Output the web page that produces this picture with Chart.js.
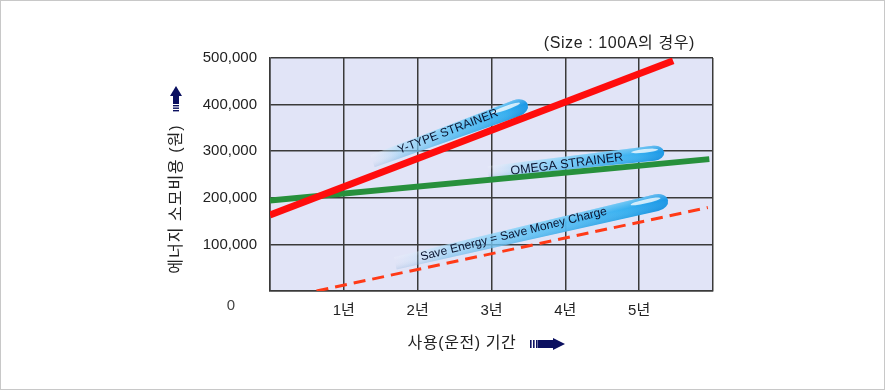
<!DOCTYPE html>
<html>
<head>
    <title>에너지 소모비용</title>
    <script src="https://cdn.jsdelivr.net/npm/chart.js"></script>
    <style>
        body { margin: 0; background: #fff; }
    </style>
</head>
<body>
    <canvas id="costChart" width="885" height="390"></canvas>
    <script>
        // values (x = years of use, y = won)
        const xTickLabels = ['', '1년', '2년', '3년', '4년', '5년', ''];
        const yTypeX = [0, 5.46];
        const yTypeY = [163000, 494000];
        const omegaX = [0, 5.95];
        const omegaY = [194000, 283000];
        const savingX = [0.63, 5.93];
        const savingY = [0, 179000];

        // callout bubbles, in data units: [tailX, tailY, headX, headY]
        const calloutText = ['Y-TYPE STRAINER', 'OMEGA STRAINER', 'Save Energy = Save Money Charge'];
        const calloutPath = [[1.38, 281000, 3.49, 401000], [2.95, 258000, 5.34, 298000], [1.69, 62000, 5.39, 195000]];
        const calloutTextAt = [[2.41, 342000], [4.02, 272000], [3.30, 122000]];

        const pts = (xs, ys) => xs.map((x, i) => ({ x: x, y: ys[i] }));
        const FONT = '"Liberation Sans", "Noto Sans CJK KR", sans-serif';

        function drawBubble(ctx, x0, y0, x1, y1, h) {
            const L = Math.hypot(x1 - x0, y1 - y0);
            ctx.save();
            ctx.translate(x0, y0);
            ctx.rotate(Math.atan2(y1 - y0, x1 - x0));
            ctx.beginPath();
            ctx.moveTo(0, -h * 0.3);
            ctx.lineTo(L - h * 0.7, -h / 2);
            ctx.ellipse(L - h * 0.7, 0, h * 0.7, h / 2, 0, -Math.PI / 2, Math.PI / 2);
            ctx.lineTo(0, h * 0.45);
            ctx.closePath();
            const g = ctx.createLinearGradient(0, 0, L, 0);
            g.addColorStop(0, 'rgba(200,232,252,0)');
            g.addColorStop(0.2, 'rgba(140,210,248,0.6)');
            g.addColorStop(0.5, 'rgba(95,195,246,0.9)');
            g.addColorStop(0.85, 'rgba(55,176,240,1)');
            g.addColorStop(1, 'rgba(25,150,230,1)');
            ctx.fillStyle = g;
            ctx.fill();
            ctx.clip();
            const v = ctx.createLinearGradient(0, -h / 2, 0, h / 2);
            v.addColorStop(0, 'rgba(255,255,255,0.3)');
            v.addColorStop(0.45, 'rgba(255,255,255,0)');
            v.addColorStop(1, 'rgba(0,90,170,0.15)');
            ctx.fillStyle = v;
            ctx.fillRect(0, -h / 2, L, h);
            ctx.fillStyle = 'rgba(255,255,255,0.75)';
            ctx.beginPath();
            ctx.ellipse(L - h * 1.3, -h * 0.22, h * 0.9, h * 0.12, 0, 0, Math.PI * 2);
            ctx.fill();
            ctx.restore();
        }

        const decorPlugin = {
            id: 'decor',
            beforeDraw(chart) {
                const { ctx, chartArea: a } = chart;
                ctx.save();
                ctx.fillStyle = '#fff';
                ctx.fillRect(0, 0, chart.width, chart.height);
                ctx.strokeStyle = '#c8c8c8';
                ctx.lineWidth = 1;
                ctx.strokeRect(0.5, 0.5, chart.width - 1, chart.height - 1);
                ctx.fillStyle = '#e1e4f7';
                ctx.fillRect(a.left, a.top, a.right - a.left, a.bottom - a.top);
                ctx.restore();
            },
            beforeDatasetsDraw(chart) {
                const { ctx, scales: { x, y } } = chart;
                const heights = [17, 15, 17];
                const sizes = [12, 12.5, 12];
                calloutPath.forEach((p, i) => {
                    const x0 = x.getPixelForValue(p[0]), y0 = y.getPixelForValue(p[1]);
                    const x1 = x.getPixelForValue(p[2]), y1 = y.getPixelForValue(p[3]);
                    drawBubble(ctx, x0, y0, x1, y1, heights[i]);
                    const tx = x.getPixelForValue(calloutTextAt[i][0]);
                    const ty = y.getPixelForValue(calloutTextAt[i][1]);
                    ctx.save();
                    ctx.translate(tx, ty);
                    ctx.rotate(Math.atan2(y1 - y0, x1 - x0) - 0.02);
                    ctx.font = sizes[i] + 'px ' + FONT;
                    ctx.fillStyle = '#0b1430';
                    ctx.textAlign = 'center';
                    ctx.textBaseline = 'middle';
                    ctx.fillText(calloutText[i], 0, 0);
                    ctx.restore();
                });
            },
            afterDraw(chart) {
                const { ctx, chartArea: a } = chart;
                ctx.save();
                ctx.fillStyle = '#222';
                ctx.textBaseline = 'middle';

                // origin label
                ctx.font = '15px ' + FONT;
                ctx.textAlign = 'center';
                ctx.fillStyle = '#444';
                ctx.fillText('0', a.left - 39, a.bottom + 15);
                ctx.fillStyle = '#222';

                // note top right
                ctx.font = '16px ' + FONT;
                ctx.letterSpacing = '0.6px';
                ctx.textAlign = 'right';
                ctx.fillText('(Size : 100A의 경우)', 695, 44);

                // x title + arrow
                ctx.textAlign = 'center';
                ctx.fillText('사용(운전) 기간', 462, 344);
                ctx.letterSpacing = '0px';
                ctx.fillStyle = '#0b1060';
                [530, 533, 536].forEach(bx => ctx.fillRect(bx, 340, 1.6, 8));
                ctx.fillRect(538, 340, 16, 8);
                ctx.beginPath();
                ctx.moveTo(553, 338); ctx.lineTo(565, 344); ctx.lineTo(553, 350);
                ctx.closePath(); ctx.fill();

                // y arrow
                ctx.beginPath();
                ctx.moveTo(176, 86); ctx.lineTo(182, 96); ctx.lineTo(170, 96);
                ctx.closePath(); ctx.fill();
                ctx.fillRect(173, 96, 6, 8);
                [105, 107.5, 110].forEach(by => ctx.fillRect(173, by, 6, 1.4));

                // y title
                ctx.translate(177, 199);
                ctx.rotate(-Math.PI / 2);
                ctx.fillStyle = '#222';
                ctx.font = '16px ' + FONT;
                ctx.letterSpacing = '1px';
                ctx.fillText('에너지 소모비용 (원)', 0, 0);
                ctx.restore();
            }
        };

        new Chart(document.getElementById('costChart').getContext('2d'), {
            type: 'scatter',
            data: {
                datasets: [
                    { label: 'Y-TYPE STRAINER', data: pts(yTypeX, yTypeY), borderColor: '#ff0d0d', borderWidth: 7 },
                    { label: 'OMEGA STRAINER', data: pts(omegaX, omegaY), borderColor: '#27903c', borderWidth: 6 },
                    { label: 'Save', data: pts(savingX, savingY), borderColor: '#ff3a17', borderWidth: 3, borderDash: [12, 7] }
                ].map(d => Object.assign(d, { showLine: true, pointRadius: 0, pointHoverRadius: 0, fill: false }))
            },
            options: {
                responsive: false,
                animation: false,
                layout: { padding: { left: 0, right: 172, top: 58, bottom: 0 } },
                plugins: { legend: { display: false }, tooltip: { enabled: false } },
                scales: {
                    x: {
                        type: 'linear',
                        min: 0,
                        max: 6,
                        afterFit: s => { s.height = 99; },
                        grid: { color: '#3a3a3a', lineWidth: 1.5, drawTicks: false },
                        border: { color: '#3a3a3a', width: 1.5 },
                        ticks: {
                            stepSize: 1,
                            padding: 11,
                            color: '#222',
                            font: { size: 15, family: FONT },
                            maxRotation: 0,
                            callback: v => xTickLabels[v]
                        }
                    },
                    y: {
                        min: 0,
                        max: 500000,
                        afterFit: s => { s.width = 270; },
                        grid: { color: '#3a3a3a', lineWidth: 1.5, drawTicks: false },
                        border: { color: '#3a3a3a', width: 1.5 },
                        ticks: {
                            stepSize: 100000,
                            padding: 13,
                            color: '#222',
                            font: { size: 15, family: FONT },
                            callback: v => v === 0 ? '' : v.toLocaleString('en-US')
                        }
                    }
                }
            },
            plugins: [decorPlugin]
        });
    </script>
</body>
</html>
